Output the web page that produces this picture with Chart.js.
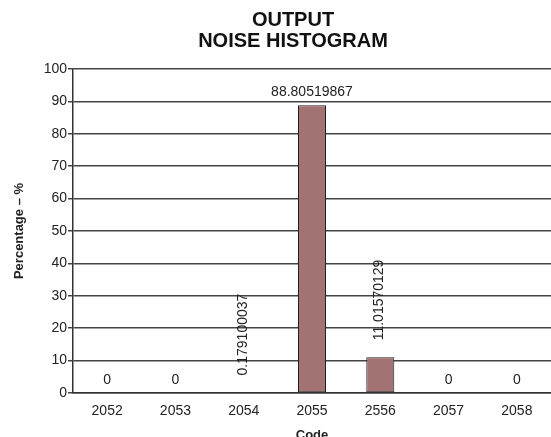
<!DOCTYPE html>
<html>
<head>
<meta charset="utf-8">
<script src="https://cdn.jsdelivr.net/npm/chart.js@4/dist/chart.umd.min.js"></script>
<style>
  html, body { margin: 0; padding: 0; background: #fff; }
  #wrap { width: 551px; height: 437px; position: relative; }
</style>
</head>
<body>
<div id="wrap"><canvas id="c"></canvas></div>
<script>
// data
const codes = ['2052', '2053', '2054', '2055', '2556', '2057', '2058'];
const percentages = [0, 0, 0.179100037, 88.80519867, 11.01570129, 0, 0];
const valueLabels = ['0', '0', '0.179100037', '88.80519867', '11.01570129', '0', '0'];
const rotatedLabel = [false, false, true, false, true, false, false];
const titleLines = ['OUTPUT', 'NOISE HISTOGRAM'];

const FONT = '"Liberation Sans", Arial, sans-serif';

// two-line title, centred a little right of the canvas middle like the original
const titleText = {
    id: 'titleText',
    afterDraw(chart) {
        const ctx = chart.ctx;
        ctx.save();
        ctx.fillStyle = '#111';
        ctx.font = 'bold 20px ' + FONT;
        ctx.textAlign = 'center';
        ctx.textBaseline = 'middle';
        titleLines.forEach((t, i) => ctx.fillText(t, 293, 20 + i * 21));
        ctx.restore();
    }
};

// value labels above each bar
const barLabels = {
    id: 'barLabels',
    afterDatasetsDraw(chart) {
        const ctx = chart.ctx;
        const meta = chart.getDatasetMeta(0);
        const y = chart.scales.y;
        ctx.save();
        ctx.fillStyle = '#222';
        ctx.font = '14px ' + FONT;
        meta.data.forEach((bar, i) => {
            if (rotatedLabel[i]) {
                ctx.save();
                ctx.translate(bar.x - 1, Math.min(bar.y, y.getPixelForValue(0)) - 17);
                ctx.rotate(-Math.PI / 2);
                ctx.textAlign = 'left';
                ctx.textBaseline = 'middle';
                ctx.fillText(valueLabels[i], 0, 0);
                ctx.restore();
            } else {
                ctx.textAlign = 'center';
                ctx.textBaseline = 'alphabetic';
                ctx.fillText(valueLabels[i], bar.x, bar.y - 9);
            }
        });
        ctx.restore();
    }
};

new Chart(document.getElementById('c'), {
    type: 'bar',
    data: {
        labels: codes,
        datasets: [{
            data: percentages,
            backgroundColor: '#a37272',
            borderColor: '#222',
            borderWidth: 1,
            borderSkipped: false,
            categoryPercentage: 1,
            barPercentage: 0.41
        }]
    },
    options: {
        responsive: true,
        maintainAspectRatio: false,
        animation: false,
        layout: { padding: { top: 69, right: 0, left: 0, bottom: 0 } },
        plugins: {
            legend: { display: false },
            tooltip: { enabled: false },
            title: { display: false }
        },
        scales: {
            x: {
                grid: { display: false, drawTicks: false },
                border: { display: true, color: '#333', width: 1.5 },
                ticks: {
                    color: '#222',
                    padding: 10,
                    font: { family: FONT, size: 14 }
                },
                title: {
                    display: true,
                    text: 'Code',
                    color: '#222',
                    font: { family: FONT, size: 13, weight: 'bold' },
                    padding: { top: 4, bottom: -6 }
                },
                afterFit(scale) { scale.height = 44; }
            },
            y: {
                min: 0,
                max: 100,
                ticks: {
                    stepSize: 10,
                    color: '#222',
                    padding: 1,
                    font: { family: FONT, size: 14 }
                },
                grid: { color: '#444', lineWidth: 1.5, tickLength: 5 },
                border: { display: true, color: '#333', width: 1.5 },
                title: {
                    display: true,
                    text: 'Percentage – %',
                    color: '#222',
                    font: { family: FONT, size: 13, weight: 'bold' },
                    padding: { top: 12, bottom: 0 }
                },
                afterFit(scale) { scale.width = 73; }
            }
        }
    },
    plugins: [barLabels, titleText]
});
</script>
</body>
</html>
